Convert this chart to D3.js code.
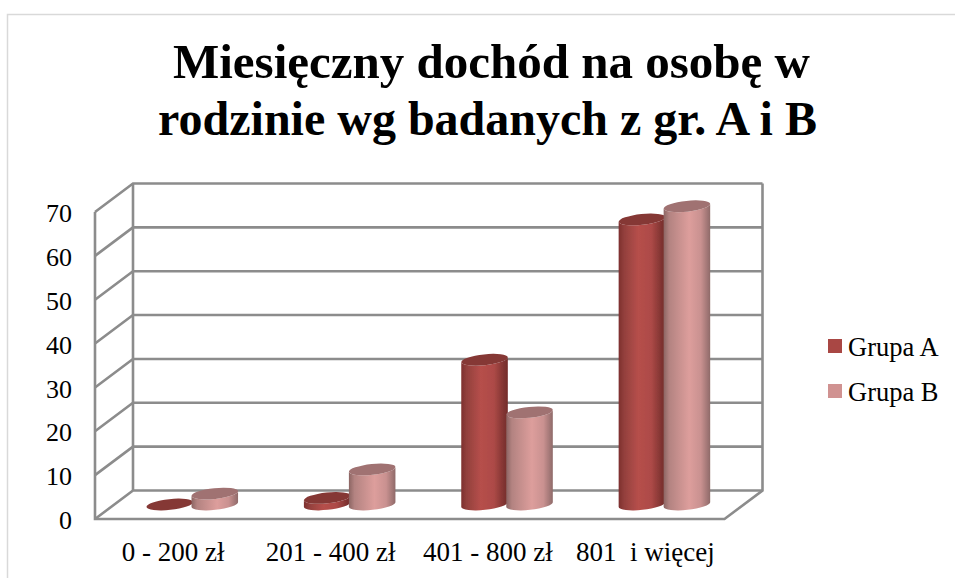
<!DOCTYPE html>
<html><head><meta charset="utf-8">
<script src="https://cdn.jsdelivr.net/npm/d3@7"></script>
<style>
html,body{margin:0;padding:0;background:#fff}
svg{display:block}
text{font-family:"Liberation Serif",serif;fill:#000}
</style></head><body>
<svg id="c" width="955" height="578"></svg>
<script>
const categories = ["0 - 200 zł","201 - 400 zł","401 - 800 zł","801  i więcej"];
const seriesNames = ["Grupa A","Grupa B"];
const grupaA = [0,1.5,33,65];
const grupaB = [2.5,8,21,68];
const yTicks = [0,10,20,30,40,50,60,70];
const titleLines = ["Miesięczny dochód na osobę w","rodzinie wg badanych z gr. A i B"];

const svg = d3.select("#c");
const W=955,H=578;
const defs=svg.append("defs");
defs.append("filter").attr("id","soft").attr("x","-5%").attr("y","-5%").attr("width","110%").attr("height","110%")
  .append("feGaussianBlur").attr("stdDeviation",0.45);
// frame
svg.append("path").attr("d",`M7.5,${H}V14.5H${W}`).attr("fill","none").attr("stroke","#d9d9d9").attr("stroke-width",1.5);

const titleX=[491.5,487.5], titleY=[78,135], titleSize=[49,48];
titleLines.forEach((t,i)=>svg.append("text").attr("x",titleX[i]).attr("y",titleY[i])
  .attr("text-anchor","middle").attr("font-weight","bold").attr("font-size",titleSize[i]).text(t));

const y = d3.scaleLinear().domain([0,70]).range([519,212]);
const x = d3.scaleBand().domain(categories).range([95,724.5]);
const dx=38, dy=-28.5;
const grid="#8c8c8c";
const plot = svg.append("g").attr("filter","url(#soft)");
const g = plot.append("g").attr("fill","none").attr("stroke",grid).attr("stroke-width",2.6);
yTicks.forEach(v=>{
  g.append("path").attr("d",`M95,${y(v)}L${95+dx},${y(v)+dy}H${724.5+dx}`);
});
g.append("path").attr("d",`M95,${y(70)}V${y(0)}H724.5L${724.5+dx},${y(0)+dy}V${y(70)+dy}`);
g.append("path").attr("d",`M${95+dx},${y(70)+dy}V${y(0)+dy}`);

function grad(id,stops){
  const l=defs.append("linearGradient").attr("id",id);
  stops.forEach(s=>l.append("stop").attr("offset",s[0]).attr("stop-color",s[1]));
}
grad("gA",[[0,"#7d302e"],[.12,"#93403d"],[.42,"#b64f4b"],[.7,"#ad4a47"],[.92,"#7f3331"],[1,"#742c2a"]]);
grad("gB",[[0,"#8c6563"],[.12,"#b38381"],[.55,"#dd9e9c"],[.8,"#c99190"],[1,"#8f6a69"]]);

const seriesData=[
 {name:seriesNames[0],vals:grupaA,fill:"url(#gA)",top:"#853735",off:-22.5,legend:"#a94744"},
 {name:seriesNames[1],vals:grupaB,fill:"url(#gB)",top:"#a07272",off:22.5,legend:"#d09291"}
];
const rx=23.4, ry=5.4, rot=-6;
const base=y(0)-14.5;
const sinT=Math.sin(rot*Math.PI/180), cosT=Math.cos(rot*Math.PI/180);
const ex=rx*cosT, ey=rx*sinT;
const yb=v=>y(v)-14.5;
seriesData.forEach(s=>{
  s.vals.forEach((v,i)=>{
    const cx=x(categories[i])+x.bandwidth()/2+18.6+s.off;
    const t=yb(v);
    if(v>0){
      plot.append("path").attr("fill",s.fill)
       .attr("d",`M${cx-ex},${t-ey}L${cx-ex},${base-ey}A${rx},${ry} ${rot} 0 0 ${cx+ex},${base+ey}L${cx+ex},${t+ey}A${rx},${ry} ${rot} 0 1 ${cx-ex},${t-ey}Z`);
    }
    plot.append("ellipse").attr("cx",cx).attr("cy",t).attr("rx",rx).attr("ry",ry)
      .attr("transform",`rotate(${rot} ${cx} ${t})`).attr("fill",s.top);
  });
});

// axes
const ax=svg.append("g").attr("transform","translate(75,0)").call(d3.axisLeft(y).tickValues(yTicks).tickSize(0).tickPadding(3));
ax.select(".domain").remove();
ax.selectAll("text").attr("font-family",'"Liberation Serif",serif').attr("font-size",26).attr("fill","#000").attr("dy","0.37em");
const bx=svg.append("g").attr("transform","translate(-0.5,542)").call(d3.axisBottom(x).tickSize(0).tickPadding(0));
bx.select(".domain").remove();
bx.selectAll("text").attr("font-family",'"Liberation Serif",serif').attr("font-size",27).attr("fill","#000").style("white-space","pre");

// legend
seriesData.forEach((s,i)=>{
  const ly=[346,391][i];
  svg.append("rect").attr("x",828).attr("y",ly-7).attr("width",14).attr("height",14).attr("fill",s.legend);
  svg.append("text").attr("x",848).attr("y",ly+9.5).attr("font-size",26.5).text(s.name);
});
</script></body></html>
